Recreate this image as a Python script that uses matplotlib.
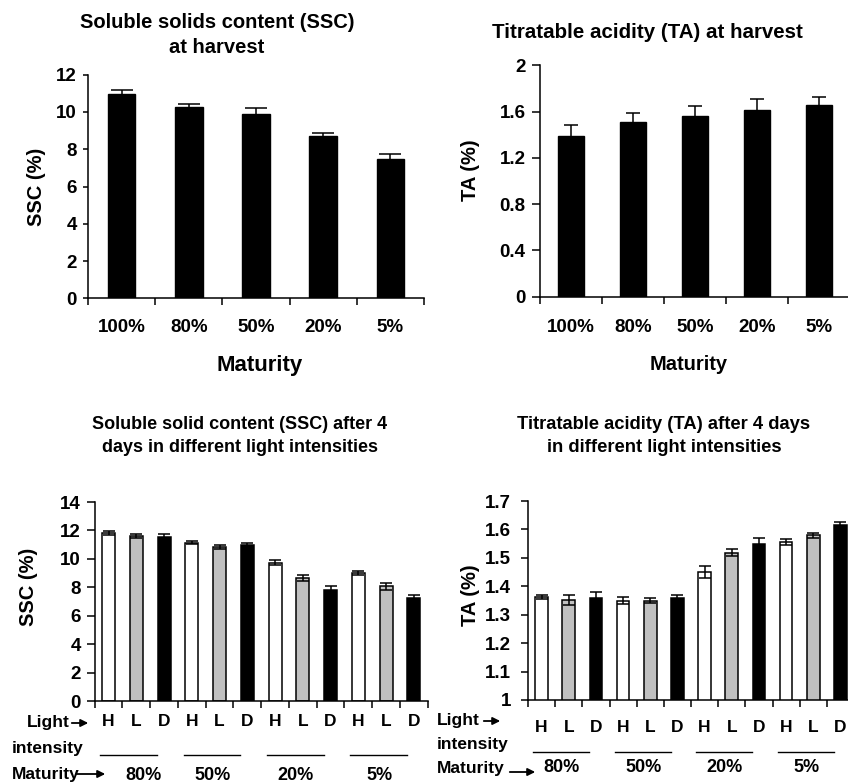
import numpy as np
import matplotlib
matplotlib.use('Agg')
import matplotlib.pyplot as plt
import matplotlib.transforms as mtransforms
from matplotlib.ticker import FuncFormatter, FixedLocator

plt.rcParams['font.family'] = ['Liberation Sans', 'DejaVu Sans']
plt.rcParams['font.weight'] = 'bold'

# at harvest
maturity = ['100%', '80%', '50%', '20%', '5%']
ssc_harvest = [10.95, 10.28, 9.89, 8.72, 7.49]
ssc_harvest_err = [0.22, 0.16, 0.30, 0.15, 0.23]
ta_harvest = [1.39, 1.51, 1.565, 1.615, 1.655]
ta_harvest_err = [0.09, 0.075, 0.085, 0.09, 0.075]

# after 4 days in light (H, L, D for each maturity group)
groups = ['80%', '50%', '20%', '5%']
light = ['H', 'L', 'D']
ssc_light = [11.84, 11.62, 11.55, 11.13, 10.82, 10.94, 9.74, 8.66, 7.81, 9.01, 8.07, 7.25]
ssc_light_err = [0.14, 0.15, 0.20, 0.10, 0.13, 0.19, 0.19, 0.21, 0.31, 0.14, 0.26, 0.21]
ta_light = [1.362, 1.353, 1.36, 1.349, 1.35, 1.36, 1.451, 1.518, 1.548, 1.556, 1.58, 1.616]
ta_light_err = [0.008, 0.018, 0.02, 0.013, 0.008, 0.01, 0.022, 0.013, 0.021, 0.01, 0.009, 0.01]

light_colors = {'H': 'white', 'L': '#c0c0c0', 'D': 'black'}

W, H = 848, 782
fig = plt.figure(figsize=(W / 100, H / 100), dpi=100)


def px_axes(x0, y_top, x1, y_bot):
    # axes from pixel box
    return fig.add_axes([x0 / W, 1 - y_bot / H, (x1 - x0) / W, (y_bot - y_top) / H])


def style(ax, ylen, ypad, xpad):
    for s in ['top', 'right']:
        ax.spines[s].set_visible(False)
    for s in ['left', 'bottom']:
        ax.spines[s].set_linewidth(1.1)
    ax.tick_params(axis='y', direction='out', length=ylen, width=1.1, labelsize=13.5, pad=ypad)
    ax.tick_params(axis='x', which='major', length=0, pad=xpad)
    ax.tick_params(axis='x', which='minor', direction='out', length=5, width=1.1)
    ax.yaxis.set_major_formatter(FuncFormatter(lambda v, p: '%g' % round(v, 2)))


def ftext(x, y, s, **kw):
    fig.text(x / W, 1 - y / H, s, **kw)


def farrow(x0, x1, y):
    fig.add_artist(matplotlib.patches.FancyArrowPatch(
        (x0 / W, 1 - y / H), (x1 / W, 1 - y / H), transform=fig.transFigure,
        arrowstyle='-|>', mutation_scale=11, lw=1.3, color='black'))


# ---- top left: SSC at harvest
ax1 = px_axes(88, 74.7, 424, 298.3)
x = np.arange(len(maturity))
ax1.bar(x, ssc_harvest, width=0.41, color='black', edgecolor='black')
ax1.errorbar(x, ssc_harvest, yerr=ssc_harvest_err, fmt='none', ecolor='black',
             elinewidth=1.1, capsize=8, capthick=1.1)
ax1.set_xlim(-0.5, 4.5)
ax1.set_ylim(0, 12)
ax1.set_yticks(np.arange(0, 13, 2))
ax1.set_xticks(x)
ax1.set_xticklabels(maturity, fontsize=13.5)
ax1.xaxis.set_minor_locator(FixedLocator(np.arange(-0.5, 5, 1)))
style(ax1, 3.6, 4.3, 15)
ftext(217, 35, 'Soluble solids content (SSC)\nat harvest', ha='center', va='center',
      fontsize=14.5, linespacing=1.45)
ftext(260, 365, 'Maturity', ha='center', va='center', fontsize=16)
ftext(36, 187, 'SSC (%)', ha='center', va='center', rotation=90, fontsize=14.5)

# ---- top right: TA at harvest
ax2 = px_axes(540, 65.3, 850, 296.7)
ax2.bar(x, ta_harvest, width=0.43, color='black', edgecolor='black')
ax2.errorbar(x, ta_harvest, yerr=ta_harvest_err, fmt='none', ecolor='black',
             elinewidth=1.1, capsize=5, capthick=1.1)
ax2.set_xlim(-0.5, 4.5)
ax2.set_ylim(0, 2)
ax2.set_yticks(np.arange(0, 2.01, 0.4))
ax2.set_xticks(x)
ax2.set_xticklabels(maturity, fontsize=13.5)
ax2.xaxis.set_minor_locator(FixedLocator(np.arange(-0.5, 5, 1)))
style(ax2, 5.5, 5, 16)
ftext(647, 32, 'Titratable acidity (TA) at harvest', ha='center', va='center', fontsize=14.8)
ftext(689, 365, 'Maturity', ha='center', va='center', fontsize=14.5)
ftext(471, 170, 'TA (%)', ha='center', va='center', rotation=90, fontsize=14.5)

# ---- bottom panels
xl = np.arange(len(groups) * len(light))
cols = [light_colors[l] for g in groups for l in light]
hld = [l for g in groups for l in light]


def light_panel(ax, vals, errs, line_y, lab_y, lab_shift):
    ax.bar(xl, vals, width=0.47, color=cols, edgecolor='black', linewidth=1.1)
    ax.errorbar(xl, vals, yerr=errs, fmt='none', ecolor='black',
                elinewidth=1.1, capsize=4, capthick=1.1)
    ax.set_xlim(-0.5, 11.5)
    ax.set_xticks(xl)
    ax.set_xticklabels(hld, fontsize=12.5)
    ax.xaxis.set_minor_locator(FixedLocator(np.arange(-0.5, 12, 1)))
    tr = mtransforms.blended_transform_factory(ax.transData, fig.transFigure)
    for i, g in enumerate(groups):
        ax.plot([3 * i - 0.3, 3 * i + 1.75], [1 - line_y / H] * 2, color='black',
                lw=1.0, transform=tr, clip_on=False)
        ax.text(3 * i + 0.75 + lab_shift[i], 1 - lab_y / H, g, transform=tr,
                ha='center', va='center', fontsize=13)


ax3 = px_axes(94.7, 502, 427.7, 701)
light_panel(ax3, ssc_light, ssc_light_err, 755, 775, [0.5, 0, 0, 0])
ax3.set_ylim(0, 14)
ax3.set_yticks(np.arange(0, 15, 2))
style(ax3, 5.5, 4.5, 9.3)
ftext(240, 436, 'Soluble solid content (SSC) after 4\ndays in different light intensities',
      ha='center', va='center', fontsize=13, linespacing=1.42)
ftext(28, 587, 'SSC (%)', ha='center', va='center', rotation=90, fontsize=14.5)
ftext(70, 723, 'Light', ha='right', va='center', fontsize=12.5)
farrow(69, 91, 723)
ftext(12, 748, 'intensity', ha='left', va='center', fontsize=12.5)
ftext(12, 774, 'Maturity', ha='left', va='center', fontsize=12.5)
farrow(74, 108, 774)

ax4 = px_axes(528, 501, 854, 700)
light_panel(ax4, ta_light, ta_light_err, 752, 768, [0, 0, 0, 0])
ax4.set_ylim(1, 1.7)
ax4.set_yticks(np.arange(1, 1.71, 0.1))
style(ax4, 5, 7, 14.3)
ftext(664, 436, 'Titratable acidity (TA) after 4 days\nin different light intensities',
      ha='center', va='center', fontsize=13.2, linespacing=1.42)
ftext(471, 595, 'TA (%)', ha='center', va='center', rotation=90, fontsize=14.5)
ftext(437, 721, 'Light', ha='left', va='center', fontsize=12.5)
farrow(481, 503, 721)
ftext(437, 744, 'intensity', ha='left', va='center', fontsize=12.5)
ftext(437, 768, 'Maturity', ha='left', va='center', fontsize=12.5)
farrow(507, 538, 772)

fig.savefig('out.png', dpi=100)
